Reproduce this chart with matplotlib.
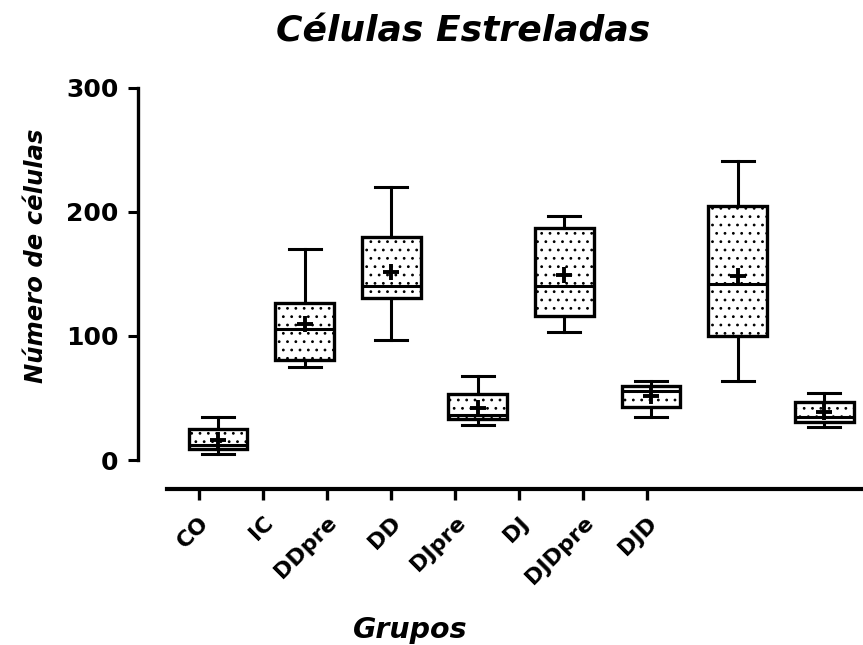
import numpy as np
import matplotlib
matplotlib.use("Agg")
import matplotlib.pyplot as plt

# Box-plot summary (min/max whiskers, quartiles, median, mean)
groups = ['CO', 'IC', 'DDpre', 'DD', 'DJpre', 'DJ', 'DJDpre', 'DJD']
mins = [5, 75, 97, 28, 103, 35, 64, 27]
q1s = [9, 81, 131, 33, 116, 43, 100, 31]
medians = [12, 106, 140, 36, 140, 56, 142, 35]
q3s = [25, 127, 180, 53, 187, 60, 205, 47]
maxs = [35, 170, 220, 68, 197, 64, 241, 54]
means = [16, 110, 152, 42, 149, 52, 148, 39]

plt.rcParams['font.family'] = 'DejaVu Sans'
plt.rcParams['font.weight'] = 'bold'
plt.rcParams['hatch.linewidth'] = 0.8

W, H = 863, 645
fig = plt.figure(figsize=(W / 100, H / 100), dpi=100)

# main axes: y axis runs 0..300 between pixel rows 460 and 88
ax = fig.add_axes([138 / W, (H - 460) / H, 725 / W, 372 / H])
ax.patch.set_alpha(0)

stats = []
for i in range(len(groups)):
    stats.append(dict(label=groups[i], whislo=mins[i], q1=q1s[i], med=medians[i],
                      q3=q3s[i], whishi=maxs[i], mean=means[i], fliers=[]))

ax.bxp(stats, positions=np.arange(len(groups)), widths=0.68, capwidths=0.37,
       patch_artist=True, showmeans=True, showfliers=False,
       boxprops=dict(facecolor='white', edgecolor='black', hatch='..', linewidth=2.4),
       whiskerprops=dict(color='black', linewidth=2.2),
       capprops=dict(color='black', linewidth=2.2),
       medianprops=dict(color='black', linewidth=2.2),
       meanprops=dict(marker='+', markersize=11, markeredgewidth=2.8,
                      markeredgecolor='black'))

ax.set_xlim(-0.924, 7.448)
ax.set_ylim(0, 300)
ax.set_yticks([0, 100, 200, 300])
for s in ['top', 'right', 'bottom']:
    ax.spines[s].set_visible(False)
ax.spines['left'].set_linewidth(2.4)
ax.tick_params(axis='y', length=7, width=2.2, pad=7, labelsize=18)
ax.tick_params(axis='x', bottom=False, labelbottom=False)
for t in ax.get_yticklabels():
    t.set_fontweight('bold')

# separate category axis drawn below, as in the original
ax2 = fig.add_axes([167 / W, (H - 489) / H, 696 / W, 0.0001])
ax2.patch.set_alpha(0)
for s in ['top', 'right', 'left']:
    ax2.spines[s].set_visible(False)
ax2.spines['bottom'].set_linewidth(3)
ax2.set_xlim(-0.5, 10.375)
ax2.set_yticks([])
ax2.set_xticks(np.arange(len(groups)))
ax2.set_xticklabels(groups, rotation=45, ha='right', va='top',
                    rotation_mode='anchor', fontsize=16, fontweight='bold')
ax2.tick_params(axis='x', length=8, width=2.4, pad=9)

fig.text(463 / W, (H - 42) / H, 'Células Estreladas', ha='center', va='baseline',
         fontsize=26, fontweight='bold', style='italic')
fig.text(36 / W, (H - 256) / H, 'Número de células', ha='center', va='center',
         rotation=90, fontsize=17.5, fontweight='bold', style='italic')
fig.text(410 / W, (H - 638) / H, 'Grupos', ha='center', va='baseline',
         fontsize=20.5, fontweight='bold', style='italic')

fig.savefig('out.png', dpi=100)
